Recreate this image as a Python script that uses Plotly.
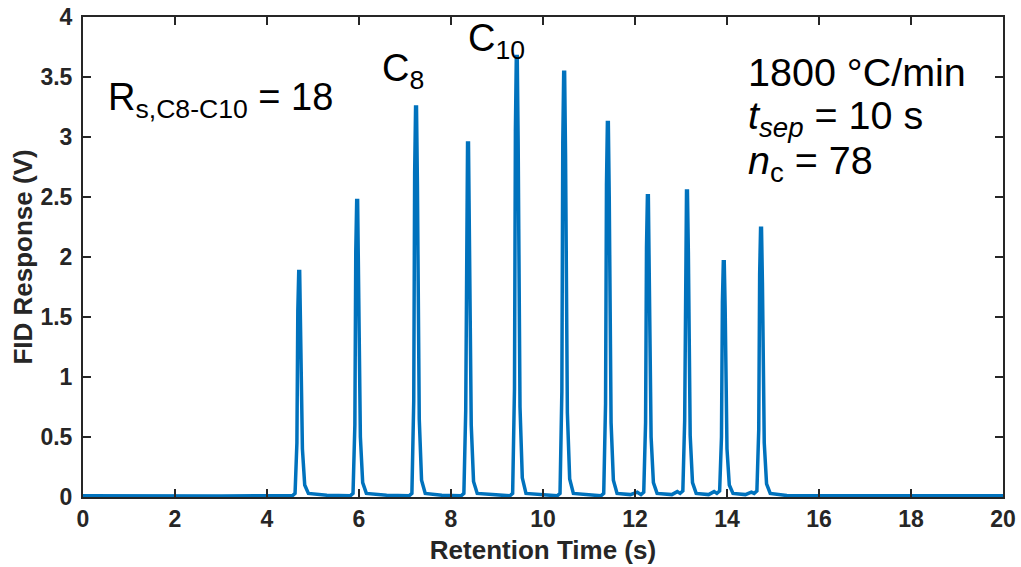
import plotly.graph_objects as go

# Retention time (s) and FID response (V)
time_s = [
    0.00, 1.00, 2.00, 3.00, 4.00, 4.40,
    4.55, 4.61, 4.65, 4.67, 4.69, 4.71, 4.73, 4.77, 4.82, 4.90,
    5.30,
    5.81, 5.87, 5.91, 5.93, 5.95, 5.97, 5.99, 6.03, 6.08, 6.16,
    6.60,
    7.09, 7.15, 7.19, 7.21, 7.23, 7.25, 7.27, 7.31, 7.36, 7.44,
    7.80,
    8.22, 8.28, 8.32, 8.34, 8.36, 8.38, 8.40, 8.44, 8.49, 8.57,
    8.90,
    9.28, 9.34, 9.38, 9.40, 9.42, 9.44, 9.46, 9.50, 9.55, 9.63,
    10.00,
    10.31, 10.37, 10.41, 10.43, 10.45, 10.47, 10.49, 10.53, 10.58, 10.66,
    11.00,
    11.26, 11.32, 11.36, 11.38, 11.40, 11.42, 11.44, 11.48, 11.53, 11.61,
    11.90, 12.05,
    12.13, 12.19, 12.23, 12.25, 12.27, 12.29, 12.31, 12.35, 12.40, 12.48,
    12.80, 12.92,
    12.98, 13.04, 13.08, 13.10, 13.12, 13.14, 13.16, 13.20, 13.25, 13.33,
    13.60, 13.72,
    13.78, 13.84, 13.88, 13.90, 13.92, 13.94, 13.96, 14.00, 14.05, 14.13,
    14.40, 14.53,
    14.59, 14.65, 14.69, 14.71, 14.73, 14.75, 14.77, 14.81, 14.86, 14.94,
    15.30, 16.00, 17.00, 18.00, 19.00, 20.00,
]
fid_v = [
    0.010, 0.008, 0.010, 0.009, 0.011, 0.015,
    0.01, 0.03, 0.45, 1.55, 1.88, 1.88, 1.50, 0.40, 0.10, 0.03,
    0.015,
    0.01, 0.03, 0.60, 2.05, 2.47, 2.47, 1.95, 0.50, 0.12, 0.03,
    0.015,
    0.01, 0.03, 0.80, 2.70, 3.25, 3.25, 2.60, 0.65, 0.14, 0.03,
    0.015,
    0.01, 0.03, 0.72, 2.45, 2.95, 2.95, 2.35, 0.60, 0.13, 0.03,
    0.020,
    0.01, 0.03, 0.90, 3.05, 3.67, 3.67, 2.95, 0.75, 0.16, 0.03,
    0.020,
    0.01, 0.03, 0.88, 2.95, 3.54, 3.54, 2.85, 0.70, 0.15, 0.03,
    0.020,
    0.01, 0.03, 0.78, 2.60, 3.12, 3.12, 2.50, 0.62, 0.14, 0.03,
    0.020, 0.040,
    0.02, 0.04, 0.62, 2.08, 2.51, 2.51, 2.00, 0.50, 0.12, 0.03,
    0.020, 0.045,
    0.03, 0.05, 0.64, 2.12, 2.55, 2.55, 2.04, 0.51, 0.12, 0.03,
    0.020, 0.045,
    0.03, 0.05, 0.50, 1.62, 1.96, 1.96, 1.57, 0.40, 0.10, 0.03,
    0.020, 0.040,
    0.03, 0.05, 0.56, 1.86, 2.24, 2.24, 1.79, 0.45, 0.11, 0.03,
    0.012, 0.010, 0.009, 0.010, 0.009, 0.010,
]

x_tick_vals = [0, 2, 4, 6, 8, 10, 12, 14, 16, 18, 20]
x_tick_text = ["0", "2", "4", "6", "8", "10", "12", "14", "16", "18", "20"]
y_tick_vals = [0, 0.5, 1, 1.5, 2, 2.5, 3, 3.5, 4]
y_tick_text = ["0", "0.5", "1", "1.5", "2", "2.5", "3", "3.5", "4"]

FONT = "Liberation Sans, Arial, sans-serif"

fig = go.Figure()
fig.add_trace(go.Scatter(
    x=time_s, y=fid_v, mode="lines",
    line=dict(color="#0072BD", width=3.5),
    showlegend=False, hoverinfo="skip",
))

ann_font = dict(family=FONT, size=38, color="#000000")
ann_font_r = dict(family=FONT, size=39.5, color="#000000")
annotations = [
    dict(x=0.50, y=3.31, text="R<sub>s,C8-C10</sub> = 18", font=ann_font),
    dict(x=6.45, y=3.55, text="C<sub>8</sub>", font=ann_font),
    dict(x=8.33, y=3.80, text="C<sub>10</sub>", font=ann_font),
    dict(x=14.41, y=3.54, text="1800 °C/min", font=ann_font_r),
    dict(x=14.41, y=3.155, text="<i>t<sub>sep</sub></i> = 10 s", font=ann_font_r),
    dict(x=14.41, y=2.78, text="<i>n</i><sub>c</sub> = 78", font=ann_font_r),
]
for a in annotations:
    fig.add_annotation(xref="x", yref="y", showarrow=False,
                       xanchor="left", yanchor="middle", **a)

tick_font = dict(family=FONT, size=23, color="#262626", weight="bold")
title_font = dict(family=FONT, size=26, color="#262626", weight="bold")

fig.update_xaxes(
    range=[0, 20], tickvals=x_tick_vals, ticktext=x_tick_text,
    ticks="inside", ticklen=8, tickwidth=2, tickcolor="#262626",
    showline=True, linecolor="#262626", linewidth=2, mirror="ticks",
    showgrid=False, zeroline=False,
    tickfont=tick_font,
    title=dict(text="Retention Time (s)", font=title_font, standoff=10),
)
fig.update_yaxes(
    range=[0, 4], tickvals=y_tick_vals, ticktext=y_tick_text,
    ticks="inside", ticklen=8, tickwidth=2, tickcolor="#262626",
    showline=True, linecolor="#262626", linewidth=2, mirror="ticks",
    showgrid=False, zeroline=False,
    tickfont=tick_font, ticklabelstandoff=4,
    title=dict(text="FID Response (V)", font=title_font, standoff=0),
)
fig.update_layout(
    width=1021, height=567,
    margin=dict(l=83, r=18, t=17, b=70, autoexpand=False),
    paper_bgcolor="white", plot_bgcolor="white",
    font=dict(family=FONT),
)

fig.write_html("out.html")
